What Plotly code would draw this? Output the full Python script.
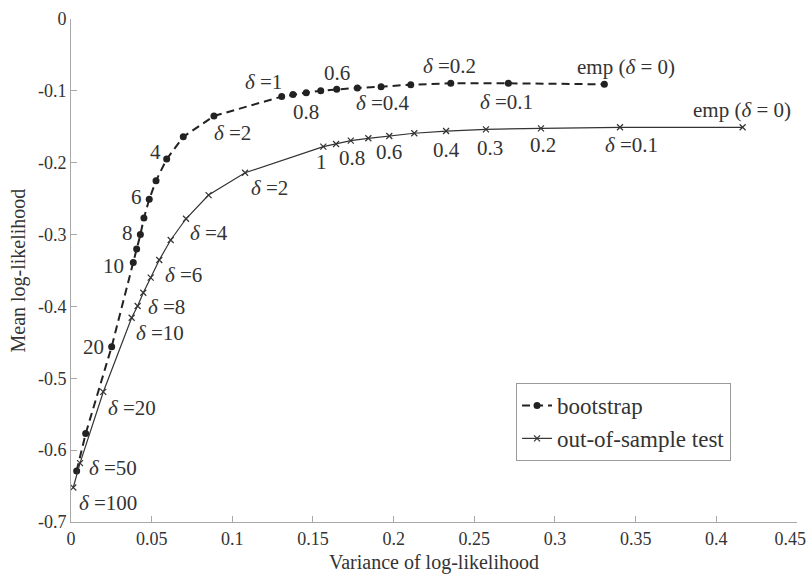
import plotly.graph_objects as go

# bootstrap curve (delta = 100, 50, 20, 10..1, 0.9..0.1, 0)
boot_x = [0.0035, 0.0091, 0.0252, 0.0386, 0.0407, 0.0430, 0.0452, 0.0485, 0.0527, 0.0593,
          0.0696, 0.0886, 0.1306, 0.1376, 0.1458, 0.1548, 0.1647, 0.1775, 0.1922, 0.2106,
          0.2354, 0.2711, 0.3306]
boot_y = [-0.629, -0.577, -0.456, -0.339, -0.320, -0.300, -0.277, -0.251, -0.225, -0.195,
          -0.164, -0.135, -0.108, -0.105, -0.1025, -0.0997, -0.0979, -0.096, -0.0942, -0.0914,
          -0.0895, -0.0895, -0.0909]

# out-of-sample test curve
oos_x = [0.0014, 0.0056, 0.0200, 0.0376, 0.0413, 0.0448, 0.0494, 0.0547, 0.0618, 0.0713,
         0.0853, 0.1079, 0.1564, 0.1643, 0.1734, 0.1843, 0.1973, 0.2128, 0.2325, 0.2572,
         0.2913, 0.3403, 0.4163]
oos_y = [-0.652, -0.618, -0.519, -0.4157, -0.3994, -0.381, -0.360, -0.3354, -0.3075, -0.278,
         -0.245, -0.214, -0.1777, -0.174, -0.1693, -0.166, -0.1628, -0.159, -0.1559, -0.1535,
         -0.1521, -0.1507, -0.1507]

D = "<i>δ</i>"
boot_labels = ["20", "10", "8", "6", "4", D + " =2", D + " =1", "0.8", "0.6",
               D + " =0.4", D + " =0.2", D + " =0.1", "emp (" + D + " = 0)"]
boot_label_x = [0.0138, 0.0262, 0.0351, 0.0403, 0.0521, 0.1002, 0.1192, 0.1457, 0.1651,
                0.1932, 0.2349, 0.2701, 0.3438]
boot_label_y = [-0.456, -0.3437, -0.2982, -0.2481, -0.1847, -0.159, -0.0873, -0.129, -0.0756,
                -0.1173, -0.0654, -0.1151, -0.0664]

oos_labels = [D + " =100", D + " =50", D + " =20", D + " =10", D + " =8", D + " =6", D + " =4",
              D + " =2", "1", "0.8", "0.6", "0.4", "0.3", "0.2", D + " =0.1", "emp (" + D + " = 0)"]
oos_label_x = [0.0231, 0.0262, 0.0376, 0.0552, 0.0593, 0.0700, 0.0855, 0.1233, 0.1554, 0.1740,
               0.1971, 0.2325, 0.2597, 0.2928, 0.3475, 0.4157]
oos_label_y = [-0.674, -0.6252, -0.5417, -0.4365, -0.4004, -0.3562, -0.2982, -0.2356, -0.1986,
               -0.1938, -0.1847, -0.1823, -0.1799, -0.1753, -0.1753, -0.1266]

x_ticks = [0, 0.05, 0.1, 0.15, 0.2, 0.25, 0.3, 0.35, 0.4, 0.45]
x_tick_text = ["0", "0.05", "0.1", "0.15", "0.2", "0.25", "0.3", "0.35", "0.4",
               "0.45&nbsp;&nbsp;&nbsp;"]
y_ticks = [0, -0.1, -0.2, -0.3, -0.4, -0.5, -0.6, -0.7]
y_tick_text = ["0", "-0.1", "-0.2", "-0.3", "-0.4", "-0.5", "-0.6", "-0.7"]

FONT = "Liberation Serif"
TXT = "#333333"
AX = "#a8a8a8"

fig = go.Figure()
fig.add_trace(go.Scatter(
    x=boot_x, y=boot_y, mode="lines+markers", name="bootstrap",
    line=dict(color="#222222", width=2, dash="8px,5px"),
    marker=dict(symbol="circle", size=7, color="#222222"),
))
fig.add_trace(go.Scatter(
    x=oos_x, y=oos_y, mode="lines+markers", name="out-of-sample test",
    line=dict(color="#333333", width=1.2),
    marker=dict(symbol="x-thin", size=6, line=dict(color="#333333", width=1.2)),
))

annotations = []
for t, x, y in zip(boot_labels + oos_labels, boot_label_x + oos_label_x, boot_label_y + oos_label_y):
    annotations.append(dict(x=x, y=y, xref="x", yref="y", text=t, showarrow=False,
                            font=dict(family=FONT, size=21, color=TXT),
                            xanchor="center", yanchor="middle"))
# axis titles
annotations.append(dict(x=0.5, y=-0.0815, xref="paper", yref="paper",
                        text="Variance of log-likelihood", showarrow=False,
                        font=dict(family=FONT, size=20, color=TXT),
                        xanchor="center", yanchor="middle"))
annotations.append(dict(x=-0.073, y=0.5, xref="paper", yref="paper",
                        text="Mean log-likelihood", showarrow=False, textangle=-90,
                        font=dict(family=FONT, size=20, color=TXT),
                        xanchor="center", yanchor="middle"))

fig.update_layout(
    width=810, height=574,
    margin=dict(l=71, r=13, t=19, b=52),
    paper_bgcolor="white", plot_bgcolor="white",
    font=dict(family=FONT, size=18, color=TXT),
    showlegend=True,
    legend=dict(x=0.613, y=0.2763, xanchor="left", yanchor="top",
                bgcolor="white", bordercolor="#9a9a9a", borderwidth=1,
                font=dict(family=FONT, size=23, color=TXT),
                tracegroupgap=14, itemwidth=30),
    annotations=annotations,
    xaxis=dict(range=[0, 0.45001], tickvals=x_ticks, ticktext=x_tick_text, automargin=False,
               ticklabeloverflow="allow",
               showgrid=False, zeroline=False, showline=True, linecolor=AX, linewidth=1,
               ticks="inside", ticklen=6, tickcolor=AX,
               tickfont=dict(family=FONT, size=18, color=TXT)),
    yaxis=dict(range=[-0.70001, 0.00001], tickvals=y_ticks, ticktext=y_tick_text, automargin=False,
               ticklabeloverflow="allow",
               showgrid=False, zeroline=False, showline=True, linecolor=AX, linewidth=1,
               ticks="inside", ticklen=6, tickcolor=AX,
               tickfont=dict(family=FONT, size=18, color=TXT)),
)

fig.write_html("out.html", config={"displayModeBar": False},
               post_script="document.body.style.margin='0px';document.body.style.padding='0px';")
